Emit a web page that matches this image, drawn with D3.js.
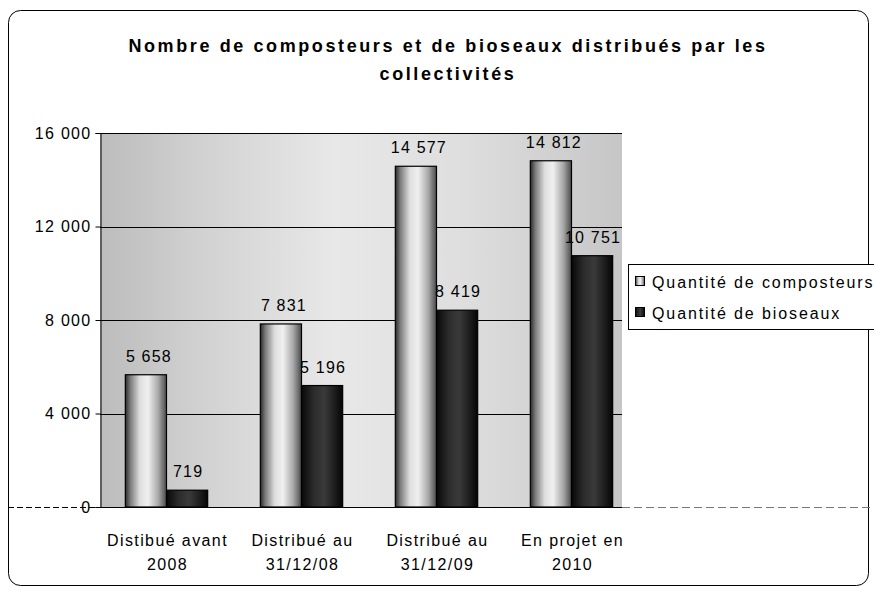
<!DOCTYPE html>
<html><head><meta charset="utf-8">
<script src="https://cdn.jsdelivr.net/npm/d3@7"></script>
<style>body{margin:0;background:#fff}svg{display:block}text{font-family:"Liberation Sans",Arial,sans-serif;fill:#000}</style>
</head><body><svg id="c" width="874" height="592"></svg>
<script>
const categories = [["Distibué avant","2008"],["Distribué au","31/12/08"],["Distribué au","31/12/09"],["En projet en","2010"]];
const seriesNames = ["Quantité de composteurs","Quantité de bioseaux"];
const composteurs = [5658, 7831, 14577, 14812];
const bioseaux = [719, 5196, 8419, 10751];
const yTicks = [0, 4000, 8000, 12000, 16000];

const svg = d3.select("#c");
const loc = d3.formatLocale({decimal:",", thousands:"\u00a0", grouping:[3], currency:["","€"]});
const fmt = loc.format(",d");

const defs = svg.append("defs");
const g1 = defs.append("linearGradient").attr("id","gc").attr("x1","0").attr("x2","1").attr("y1","0").attr("y2","0");
[[0,"#2a2a2a"],[0.12,"#7a7a7a"],[0.35,"#dedede"],[0.55,"#f0f0f0"],[0.8,"#a8a8a8"],[1,"#4a4a4a"]].forEach(s=>g1.append("stop").attr("offset",s[0]).attr("stop-color",s[1]));
const g2 = defs.append("linearGradient").attr("id","gb").attr("x1","0").attr("x2","1").attr("y1","0").attr("y2","0");
[[0,"#080808"],[0.3,"#2c2c2c"],[0.55,"#3a3a3a"],[0.8,"#1e1e1e"],[1,"#050505"]].forEach(s=>g2.append("stop").attr("offset",s[0]).attr("stop-color",s[1]));
const g3 = defs.append("linearGradient").attr("id","gw").attr("x1","0").attr("x2","1").attr("y1","0").attr("y2","0");
[[0,"#bcbcbc"],[0.2,"#d2d2d2"],[0.45,"#e8e8e8"],[0.7,"#dedede"],[1,"#c6c6c6"]].forEach(s=>g3.append("stop").attr("offset",s[0]).attr("stop-color",s[1]));

// outer border
svg.append("rect").attr("x",8.5).attr("y",10.5).attr("width",860).attr("height",575).attr("rx",12)
  .attr("fill","none").attr("stroke","#000").attr("stroke-width",1);

// title
const title = svg.append("text").attr("x",447).attr("text-anchor","middle").style("font-weight","bold").style("font-size","18px").style("letter-spacing","2.6px");
title.append("tspan").attr("x",448).attr("y",52).text("Nombre de composteurs et de bioseaux distribués par les");
title.append("tspan").attr("x",448).attr("y",80).text("collectivités");

const y = d3.scaleLinear().domain([0,16000]).range([507,133]);
const x0 = d3.scaleBand().domain(d3.range(categories.length)).range([99,639]).paddingInner(0.39).paddingOuter(0.195);
const x1 = d3.scaleBand().domain([0,1]).range([0,x0.bandwidth()]);

// back wall
svg.append("rect").attr("x",100).attr("y",y(16000)).attr("width",522).attr("height",y(0)-y(16000)).attr("fill","url(#gw)");

// gridlines
svg.append("g").selectAll("line").data(yTicks.filter(d=>d>0)).join("line")
  .attr("x1",100).attr("x2",622).attr("y1",d=>Math.round(y(d))+0.5).attr("y2",d=>Math.round(y(d))+0.5)
  .attr("stroke","#000").attr("stroke-width",1);

// baseline
svg.append("line").attr("x1",8).attr("x2",100).attr("y1",507.5).attr("y2",507.5).attr("stroke","#000").attr("stroke-dasharray","6,3");
svg.append("line").attr("x1",100).attr("x2",622).attr("y1",507.5).attr("y2",507.5).attr("stroke","#000");
svg.append("line").attr("x1",622).attr("x2",874).attr("y1",507.5).attr("y2",507.5).attr("stroke","#777").attr("stroke-dasharray","8,4");

// axis
const ax = svg.append("g").attr("transform","translate(100.5,0)")
  .call(d3.axisLeft(y).tickValues(yTicks).tickFormat(fmt).tickSize(5).tickPadding(4));
ax.select(".domain").attr("stroke","#000");
ax.selectAll("text").style("font-size","16px").style("letter-spacing","1.3px").style("font-family","'Liberation Sans',Arial,sans-serif");

const series = [composteurs, bioseaux];
const fills = ["url(#gc)","url(#gb)"];
series.forEach((vals,si)=>{
  const g = svg.append("g");
  g.selectAll("rect").data(vals).join("rect")
    .attr("x",(d,i)=>x0(i)+x1(si)).attr("width",x1.bandwidth())
    .attr("y",d=>y(d)).attr("height",d=>y(0)-y(d))
    .attr("fill",fills[si]).attr("stroke","#000").attr("stroke-width",1.2);
  g.selectAll("text").data(vals).join("text")
    .attr("x",(d,i)=>x0(i)+x1(si)+x1.bandwidth()/2 + (si===0?3:1)).attr("y",d=>y(d)-13)
    .attr("text-anchor","middle").style("font-size","16px").style("letter-spacing","1.2px").text(d=>fmt(d));
});

// category labels
const cl = svg.append("g");
categories.forEach((c,i)=>{
  const t = cl.append("text").attr("text-anchor","middle").style("font-size","16px").style("letter-spacing","1.4px");
  c.forEach((line,j)=>t.append("tspan").attr("x",x0(i)+x0.bandwidth()/2+1).attr("y",546+j*24).text(line));
});

// legend
const lg = svg.append("g");
lg.append("rect").attr("x",628.5).attr("y",264.5).attr("width",260).attr("height",65).attr("fill","#fff").attr("stroke","#000");
seriesNames.forEach((n,i)=>{
  const yy = 282 + i*31;
  lg.append("rect").attr("x",635.5).attr("y",yy-5.5).attr("width",9).attr("height",9).attr("fill",fills[i]).attr("stroke","#000");
  lg.append("text").attr("x",652).attr("y",yy+6).style("font-size","16px").style("letter-spacing","1.9px").text(n);
});
</script></body></html>
